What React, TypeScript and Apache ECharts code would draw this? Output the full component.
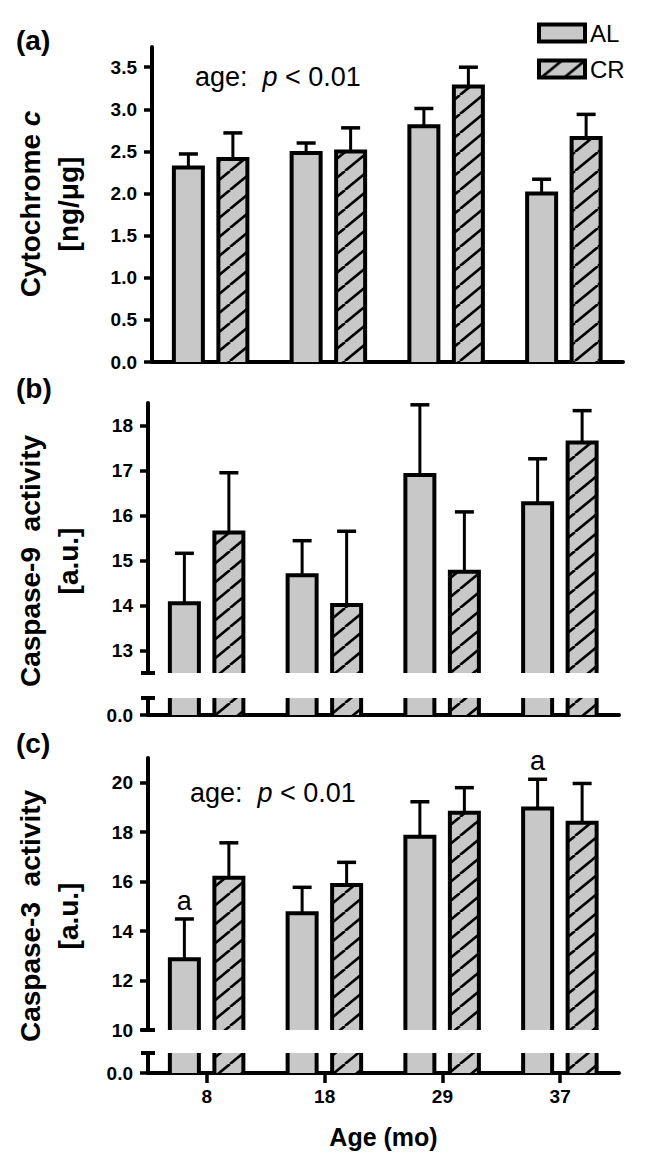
import React, { useEffect, useRef } from "react";
import * as echarts from "echarts";

const FONT = '"Liberation Sans", Arial, Helvetica, sans-serif';

const categories = ["8", "18", "29", "37"];

// (a) Cytochrome c [ng/µg]
const cytoAL = [2.31, 2.48, 2.8, 2.0];
const cytoALerr = [0.16, 0.12, 0.21, 0.17];
const cytoCR = [2.41, 2.5, 3.27, 2.66];
const cytoCRerr = [0.31, 0.28, 0.23, 0.28];
const cytoTicks = [0, 0.5, 1.0, 1.5, 2.0, 2.5, 3.0, 3.5];

// (b) Caspase-9 activity [a.u.]
const cas9AL = [14.05, 14.67, 16.9, 16.27];
const cas9ALerr = [1.11, 0.77, 1.56, 0.99];
const cas9CR = [15.62, 14.01, 14.75, 17.62];
const cas9CRerr = [1.33, 1.64, 1.33, 0.71];
const cas9Ticks = [13, 14, 15, 16, 17, 18];

// (c) Caspase-3 activity [a.u.]
const cas3AL = [12.86, 14.72, 17.82, 18.96];
const cas3ALerr = [1.63, 1.05, 1.41, 1.18];
const cas3CR = [16.16, 15.86, 18.79, 18.38];
const cas3CRerr = [1.41, 0.92, 1.01, 1.59];
const cas3Ticks = [10, 12, 14, 16, 18, 20];
const cas3Sig = ["a", "", "", "a"];

const GRAY = "#c8c8c8";

function makeHatch(): any {
  const W = 23;
  const H = 19;
  const c = document.createElement("canvas");
  c.width = W;
  c.height = H;
  const ctx = c.getContext("2d");
  if (!ctx) return GRAY;
  ctx.fillStyle = GRAY;
  ctx.fillRect(0, 0, W, H);
  ctx.strokeStyle = "#000";
  ctx.lineWidth = 2.6;
  for (const dx of [-W, 0, W]) {
    ctx.beginPath();
    ctx.moveTo(dx, H);
    ctx.lineTo(dx + W, 0);
    ctx.stroke();
  }
  return { image: c, repeat: "repeat" };
}

function makeRender(offset: number, fill: any, labels?: string[]) {
  return (params: any, api: any) => {
    const cat = api.value(0);
    const v = api.value(1);
    const e = api.value(2);
    const cs = params.coordSys;
    const top = cs.y;
    const bottom = cs.y + cs.height;
    const p = api.coord([cat, v]);
    const x = p[0] + offset;
    let yTop = p[1];
    const clipped = yTop < top;
    if (clipped) yTop = top;
    const hw = 14.5;
    const children: any[] = [];
    children.push({
      type: "rect",
      shape: { x: x - hw, y: yTop, width: 2 * hw, height: bottom - yTop },
      style: { fill, stroke: null },
    });
    if (!clipped && e > 0) {
      const eTop = api.coord([cat, v + e])[1];
      children.push({
        type: "line",
        shape: { x1: x, y1: yTop, x2: x, y2: eTop },
        style: { stroke: "#000", lineWidth: 3 },
      });
      children.push({
        type: "line",
        shape: { x1: x - 9.5, y1: eTop, x2: x + 9.5, y2: eTop },
        style: { stroke: "#000", lineWidth: 3.5 },
      });
      const lab = labels ? labels[params.dataIndex] : "";
      if (lab) {
        children.push({
          type: "text",
          x,
          y: eTop - 18,
          style: {
            text: lab,
            fontSize: 27,
            fontFamily: FONT,
            fill: "#000",
            align: "center",
            verticalAlign: "middle",
          },
        });
      }
    }
    if (clipped) {
      children.push({
        type: "line",
        shape: { x1: x - hw, y1: top, x2: x - hw, y2: bottom },
        style: { stroke: "#000", lineWidth: 4 },
      });
      children.push({
        type: "line",
        shape: { x1: x + hw, y1: top, x2: x + hw, y2: bottom },
        style: { stroke: "#000", lineWidth: 4 },
      });
    } else {
      children.push({
        type: "polyline",
        shape: {
          points: [
            [x - hw, bottom],
            [x - hw, yTop],
            [x + hw, yTop],
            [x + hw, bottom],
          ],
        },
        style: { stroke: "#000", lineWidth: 4, fill: null, lineJoin: "miter" },
      });
    }
    return { type: "group", children };
  };
}

export default function App() {
  const ref = useRef<HTMLDivElement>(null);

  useEffect(() => {
    if (!ref.current) return;
    const chart = echarts.init(ref.current, undefined, { renderer: "svg" });
    const hatch = makeHatch();

    const gridDefs = [
      { left: 152, top: 47, width: 471, height: 315 },
      { left: 148, top: 403, width: 471, height: 270 },
      { left: 148, top: 698, width: 471, height: 17 },
      { left: 148, top: 758, width: 471, height: 272 },
      { left: 148, top: 1053, width: 471, height: 20 },
    ];

    const axisLabelStyle = {
      fontSize: 19,
      fontWeight: "bold",
      fontFamily: FONT,
      color: "#000",
    };

    const makeY = (
      idx: number,
      min: number,
      max: number,
      ticks: number[],
      fmt: (v: number) => string,
      symbol: [string, string]
    ) => ({
      type: "value",
      gridIndex: idx,
      min,
      max,
      splitLine: { show: false },
      axisLine: {
        show: true,
        lineStyle: { color: "#000", width: 4 },
        symbol,
        symbolSize: [14, 4],
      },
      axisTick: {
        show: true,
        length: 8,
        lineStyle: { color: "#000", width: 3.5 },
        customValues: ticks,
      },
      axisLabel: {
        ...axisLabelStyle,
        margin: 15,
        customValues: ticks,
        formatter: (v: number) => fmt(v),
      },
    });

    const f1 = (v: number) => v.toFixed(1);
    const f0 = (v: number) => String(Math.round(v));

    const yAxis = [
      makeY(0, 0, 3.74, cytoTicks, f1, ["none", "none"]),
      makeY(1, 12.5, 18.5, cas9Ticks, f0, ["rect", "none"]),
      makeY(2, 0, 1, [0], f1, ["none", "rect"]),
      makeY(3, 10, 21, cas3Ticks, f0, ["rect", "none"]),
      makeY(4, 0, 1, [0], f1, ["none", "rect"]),
    ];

    const xAxis = gridDefs.map((_, i) => {
      const showLine = i === 0 || i === 2 || i === 4;
      const last = i === 4;
      return {
        type: "category",
        gridIndex: i,
        data: categories,
        boundaryGap: true,
        show: showLine,
        axisLine: {
          show: showLine,
          onZero: false,
          lineStyle: { color: "#000", width: 4 },
        },
        axisTick: {
          show: last,
          alignWithLabel: true,
          length: 10,
          lineStyle: { color: "#000", width: 3.5 },
        },
        axisLabel: { show: last, ...axisLabelStyle, margin: 14 },
        splitLine: { show: false },
        name: last ? "Age (mo)" : "",
        nameLocation: "middle",
        nameGap: 51,
        nameTextStyle: {
          fontSize: 25,
          fontWeight: "bold",
          fontFamily: FONT,
          color: "#000",
        },
      };
    });

    const toData = (vals: number[], errs: number[]) =>
      vals.map((v, i) => [i, v, errs[i]]);

    const panels = [
      { al: cytoAL, ale: cytoALerr, cr: cytoCR, cre: cytoCRerr, grids: [0], sig: undefined as any },
      { al: cas9AL, ale: cas9ALerr, cr: cas9CR, cre: cas9CRerr, grids: [1, 2], sig: undefined as any },
      { al: cas3AL, ale: cas3ALerr, cr: cas3CR, cre: cas3CRerr, grids: [3, 4], sig: cas3Sig },
    ];

    const series: any[] = [];
    panels.forEach((p) => {
      p.grids.forEach((g, k) => {
        series.push({
          type: "custom",
          name: "AL",
          coordinateSystem: "cartesian2d",
          xAxisIndex: g,
          yAxisIndex: g,
          itemStyle: { color: GRAY, borderColor: "#000", borderWidth: 4 },
          encode: { x: 0, y: 1 },
          data: toData(p.al, p.ale),
          renderItem: makeRender(-22.5, GRAY, k === 0 ? p.sig : undefined),
        });
        series.push({
          type: "custom",
          name: "CR",
          coordinateSystem: "cartesian2d",
          xAxisIndex: g,
          yAxisIndex: g,
          itemStyle: { color: hatch, borderColor: "#000", borderWidth: 4 },
          encode: { x: 0, y: 1 },
          data: toData(p.cr, p.cre),
          renderItem: makeRender(22, hatch),
        });
      });
    });

    const titleRich = {
      b: { fontSize: 28, fontWeight: "bold", fontFamily: FONT, lineHeight: 38, fill: "#000" },
      bi: {
        fontSize: 28,
        fontWeight: "bold",
        fontStyle: "italic",
        fontFamily: FONT,
        lineHeight: 38,
        fill: "#000",
      },
    };
    const yTitle = (text: string, cy: number) => ({
      type: "text",
      x: 49,
      y: cy,
      rotation: Math.PI / 2,
      style: {
        text,
        rich: titleRich,
        align: "center",
        verticalAlign: "middle",
        fill: "#000",
      },
    });
    const panelLabel = (text: string, cy: number) => ({
      type: "text",
      x: 16,
      y: cy,
      style: {
        text,
        fontSize: 28,
        fontWeight: "bold",
        fontFamily: FONT,
        fill: "#000",
        verticalAlign: "middle",
      },
    });
    const pRich = {
      n: { fontSize: 27, fontFamily: FONT, fill: "#000" },
      i: { fontSize: 27, fontFamily: FONT, fontStyle: "italic", fill: "#000" },
    };
    const ageText = (x: number, cy: number) => ({
      type: "text",
      x,
      y: cy,
      style: {
        text: "{n|age:  }{i|p}{n| < 0.01}",
        rich: pRich,
        verticalAlign: "middle",
      },
    });

    chart.setOption({
      animation: false,
      backgroundColor: "#fff",
      grid: gridDefs.map((g) => ({ ...g, containLabel: false, outerBoundsMode: "none" })),
      xAxis,
      yAxis,
      legend: {
        show: true,
        orient: "vertical",
        left: 537,
        top: 21,
        padding: 0,
        itemWidth: 46,
        itemHeight: 17,
        itemGap: 12,
        selectedMode: false,
        textStyle: { fontSize: 24, fontFamily: FONT, color: "#000" },
        data: [
          {
            name: "AL",
            icon: "rect",
            itemStyle: { color: GRAY, borderColor: "#000", borderWidth: 4 },
          },
          {
            name: "CR",
            icon: "rect",
            itemStyle: { color: hatch, borderColor: "#000", borderWidth: 4 },
          },
        ],
      },
      graphic: [
        panelLabel("(a)", 40),
        panelLabel("(b)", 388),
        panelLabel("(c)", 743),
        yTitle("{b|Cytochrome }{bi|c}\n{b|[ng/μg]}", 204),
        yTitle("{b|Caspase-9  activity}\n{b|[a.u.]}", 561),
        yTitle("{b|Caspase-3  activity}\n{b|[a.u.]}", 916),
        ageText(195, 77),
        ageText(190, 793),
      ],
      series,
    });

    return () => chart.dispose();
  }, []);

  return (
    <div
      ref={ref}
      style={{ position: "absolute", left: 0, top: 0, width: 651, height: 1158 }}
    />
  );
}
